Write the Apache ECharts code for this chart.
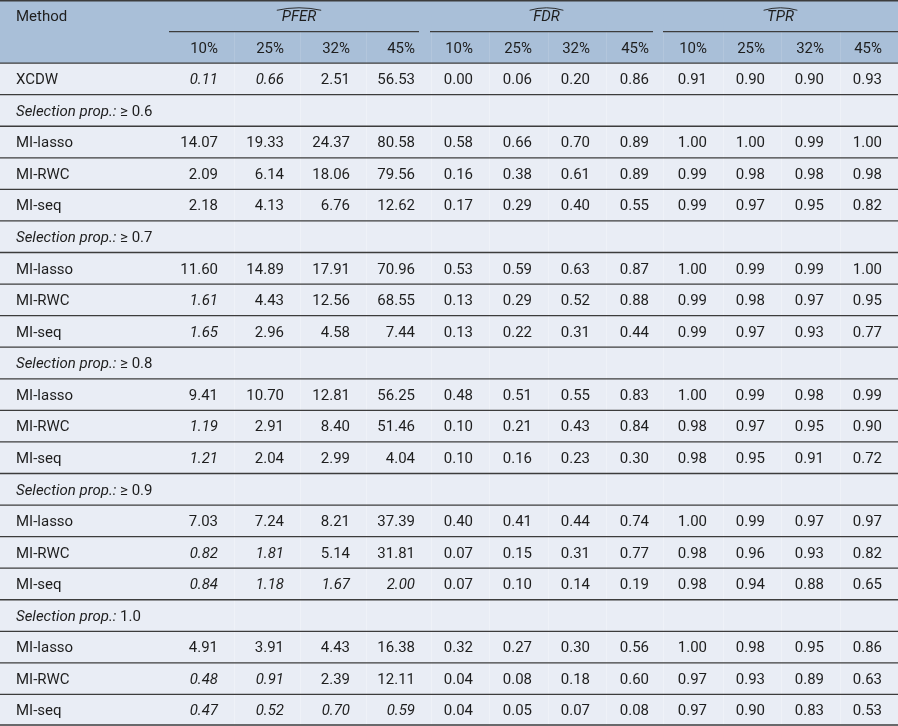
<!DOCTYPE html>
<html>
<head>
<meta charset="utf-8">
<script src="https://cdn.jsdelivr.net/npm/echarts@6/dist/echarts.min.js"></script>
<style>
html,body{margin:0;padding:0;background:#fff;}
#chart{width:898px;height:726px;}
</style>
</head>
<body>
<div id="chart"></div>
<script>
// ---------- data ----------
const headerMethod = 'Method';
const groups = ['PFER', 'FDR', 'TPR'];
const rates = ['10%', '25%', '32%', '45%'];
const xcdwLabel = 'XCDW';
const xcdwPFER = [0.11, 0.66, 2.51, 56.53];
const xcdwFDR = [0.00, 0.06, 0.20, 0.86];
const xcdwTPR = [0.91, 0.90, 0.90, 0.93];
const sectionPrefix = 'Selection prop.:';
const sections = ['≥ 0.6', '≥ 0.7', '≥ 0.8', '≥ 0.9', '1.0'];
const methods = ['MI-lasso', 'MI-RWC', 'MI-seq'];
const pfer = [
  [14.07, 19.33, 24.37, 80.58], [2.09, 6.14, 18.06, 79.56], [2.18, 4.13, 6.76, 12.62],
  [11.60, 14.89, 17.91, 70.96], [1.61, 4.43, 12.56, 68.55], [1.65, 2.96, 4.58, 7.44],
  [9.41, 10.70, 12.81, 56.25], [1.19, 2.91, 8.40, 51.46], [1.21, 2.04, 2.99, 4.04],
  [7.03, 7.24, 8.21, 37.39], [0.82, 1.81, 5.14, 31.81], [0.84, 1.18, 1.67, 2.00],
  [4.91, 3.91, 4.43, 16.38], [0.48, 0.91, 2.39, 12.11], [0.47, 0.52, 0.70, 0.59]
];
const fdr = [
  [0.58, 0.66, 0.70, 0.89], [0.16, 0.38, 0.61, 0.89], [0.17, 0.29, 0.40, 0.55],
  [0.53, 0.59, 0.63, 0.87], [0.13, 0.29, 0.52, 0.88], [0.13, 0.22, 0.31, 0.44],
  [0.48, 0.51, 0.55, 0.83], [0.10, 0.21, 0.43, 0.84], [0.10, 0.16, 0.23, 0.30],
  [0.40, 0.41, 0.44, 0.74], [0.07, 0.15, 0.31, 0.77], [0.07, 0.10, 0.14, 0.19],
  [0.32, 0.27, 0.30, 0.56], [0.04, 0.08, 0.18, 0.60], [0.04, 0.05, 0.07, 0.08]
];
const tpr = [
  [1.00, 1.00, 0.99, 1.00], [0.99, 0.98, 0.98, 0.98], [0.99, 0.97, 0.95, 0.82],
  [1.00, 0.99, 0.99, 1.00], [0.99, 0.98, 0.97, 0.95], [0.99, 0.97, 0.93, 0.77],
  [1.00, 0.99, 0.98, 0.99], [0.98, 0.97, 0.95, 0.90], [0.98, 0.95, 0.91, 0.72],
  [1.00, 0.99, 0.97, 0.97], [0.98, 0.96, 0.93, 0.82], [0.98, 0.94, 0.88, 0.65],
  [1.00, 0.98, 0.95, 0.86], [0.97, 0.93, 0.89, 0.63], [0.97, 0.90, 0.83, 0.53]
];
const pferItalicMax = 2.00; // PFER values at or below the bound are set in italics

// ---------- layout ----------
const W = 898;
const colRight = [218, 284, 350, 415, 473, 532, 590, 649, 707, 765, 824, 882];
const vLines = [234, 300, 366, 431, 489, 548, 606, 663, 723, 781, 840];
const groupSpan = [[169, 419], [430, 653], [663, 898]];
const methodX = 16;
const FONT = '15px Roboto, "Noto Sans", sans-serif';
const IFONT = 'italic 15px Roboto, "Noto Sans", sans-serif';
const TXT = '#1e1e1e';
const HEAD_BG = '#a9bfd8';
const ROW_BG = '#e9edf5';
const LINE = '#3c3c3c';

// rows: y = -2 header1, -1 header2, 0..20 body
const bodyRows = [];
bodyRows.push({ type: 'data', label: xcdwLabel, vals: [xcdwPFER, xcdwFDR, xcdwTPR] });
sections.forEach((s, si) => {
  bodyRows.push({ type: 'section', label: s });
  methods.forEach((m, mi) => {
    const k = si * 3 + mi;
    bodyRows.push({ type: 'data', label: m, vals: [pfer[k], fdr[k], tpr[k]] });
  });
});
const nBody = bodyRows.length;

// ---------- cells ----------
const cells = [];
cells.push({ value: [methodX, -1.5], text: headerMethod, align: 'left', font: FONT });
groups.forEach((g, gi) => {
  const cx = (groupSpan[gi][0] + groupSpan[gi][1] + (gi < 2 ? 10 : 0)) / 2;
  cells.push({ value: [cx, -1.5], text: g, align: 'center', font: IFONT, hat: true });
  rates.forEach((r, ri) => {
    cells.push({ value: [colRight[gi * 4 + ri], -0.5], text: r, align: 'right', font: FONT });
  });
});
bodyRows.forEach((row, r) => {
  const y = r + 0.5;
  if (row.type === 'section') {
    cells.push({ value: [methodX, y], text: '{i|' + sectionPrefix + '} ' + row.label, align: 'left', font: FONT, rich: true });
  } else {
    cells.push({ value: [methodX, y], text: row.label, align: 'left', font: FONT });
    row.vals.forEach((arr, gi) => {
      arr.forEach((v, ri) => {
        const it = gi === 0 && v <= pferItalicMax;
        cells.push({ value: [colRight[gi * 4 + ri], y], text: v.toFixed(2), align: 'right', font: it ? IFONT : FONT });
      });
    });
  }
});

// background bands
const bands = [{ value: [0, -2, 0], fill: HEAD_BG }];
for (let r = 0; r < nBody; r++) bands.push({ value: [0, r, r + 1], fill: ROW_BG });

// horizontal rules
const hrules = [{ value: [0, W, -2], w: 1.6 }, { value: [0, W, 0], w: 1.4 }];
for (let r = 1; r <= nBody; r++) hrules.push({ value: [0, W, r], w: 1.3 });
groupSpan.forEach(s => hrules.push({ value: [s[0], s[1], -1], w: 1.3 }));

// vertical faint separators
const vrules = [];
vLines.forEach(x => {
  vrules.push({ value: [x, -1, 0], c: 'rgba(255,255,255,0.12)' });
  vrules.push({ value: [x, 0, nBody], c: 'rgba(255,255,255,0.3)' });
});

const chart = echarts.init(document.getElementById('chart'), null, { renderer: 'canvas' });
chart.setOption({
  animation: false,
  grid: { left: 0, right: 0, top: 0, bottom: 0 },
  xAxis: { type: 'value', min: 0, max: W, show: false },
  yAxis: { type: 'value', min: -2, max: nBody, inverse: true, show: false },
  series: [
    {
      type: 'custom', silent: true, z: 1,
      data: bands,
      renderItem: (p, api) => {
        const d = bands[p.dataIndex];
        const a = api.coord([0, d.value[1]]);
        const b = api.coord([W, d.value[2]]);
        return { type: 'rect', shape: { x: a[0], y: a[1], width: b[0] - a[0], height: b[1] - a[1] }, style: { fill: d.fill } };
      }
    },
    {
      type: 'custom', silent: true, z: 2,
      data: vrules,
      renderItem: (p, api) => {
        const d = vrules[p.dataIndex];
        const a = api.coord([d.value[0], d.value[1]]);
        const b = api.coord([d.value[0], d.value[2]]);
        return { type: 'line', shape: { x1: a[0] + 0.5, y1: a[1], x2: b[0] + 0.5, y2: b[1] }, style: { stroke: d.c, lineWidth: 1 } };
      }
    },
    {
      type: 'custom', silent: true, z: 3,
      data: hrules,
      renderItem: (p, api) => {
        const d = hrules[p.dataIndex];
        const a = api.coord([d.value[0], d.value[2]]);
        const b = api.coord([d.value[1], d.value[2]]);
        const y = Math.min(Math.max(a[1], 0.8), 725);
        return { type: 'line', shape: { x1: a[0], y1: y, x2: b[0], y2: y }, style: { stroke: LINE, lineWidth: d.w } };
      }
    },
    {
      type: 'custom', silent: true, z: 4,
      data: cells,
      renderItem: (p, api) => {
        const d = cells[p.dataIndex];
        const pt = api.coord(d.value);
        const style = { text: d.text, font: d.font, fill: TXT, align: d.align, verticalAlign: 'middle' };
        if (d.rich) style.rich = { i: { font: IFONT, fill: TXT } };
        const children = [{ type: 'text', x: pt[0], y: pt[1] + 1.5, style }];
        if (d.hat) {
          const hw = d.text.length * 5.3 + 1;
          children.push({
            type: 'bezierCurve',
            shape: { x1: pt[0] - hw, y1: pt[1] - 5.5, x2: pt[0] + hw, y2: pt[1] - 5.5, cpx1: pt[0], cpy1: pt[1] - 10.5 },
            style: { stroke: TXT, lineWidth: 0.9, fill: null }
          });
        }
        return { type: 'group', children };
      }
    }
  ]
});
</script>
</body>
</html>
